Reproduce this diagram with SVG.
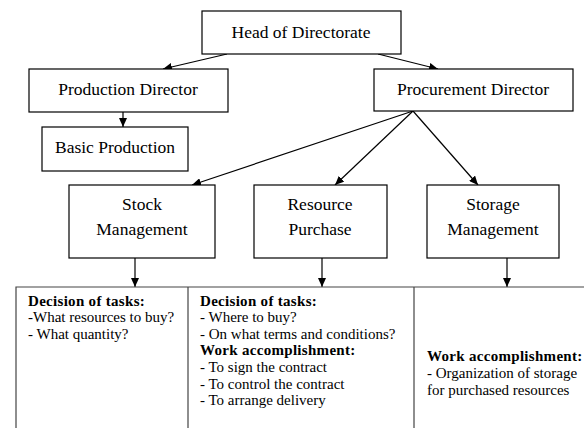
<svg xmlns="http://www.w3.org/2000/svg" width="584" height="428" viewBox="0 0 584 428">
<defs>
<marker id="ah" markerWidth="9" markerHeight="8" refX="9" refY="4" orient="auto" markerUnits="userSpaceOnUse">
<path d="M0,0 L9,4 L0,8 z" fill="#000"/>
</marker>
<style>
.box{fill:#fff;stroke:#000;stroke-width:1.2}
.lbl{font-family:'Liberation Serif','Times New Roman','DejaVu Serif',serif;font-size:17.5px;fill:#000;text-anchor:middle}
.con{stroke:#000;stroke-width:1.2;fill:none;marker-end:url(#ah)}
.tbl{stroke:#444;stroke-width:1.2;fill:none}
.t{font-family:'Liberation Serif','Times New Roman','DejaVu Serif',serif;font-size:15px;fill:#000}
.b{font-weight:bold;letter-spacing:0.3px}
</style>
</defs>
<rect width="584" height="428" fill="#fff"/>
<g id="connectors">
<line class="con" x1="227" y1="54" x2="163" y2="69"/>
<line class="con" x1="378" y1="54" x2="438" y2="69"/>
<line class="con" x1="123" y1="112" x2="123" y2="127"/>
<line class="con" x1="413" y1="111" x2="192" y2="185"/>
<line class="con" x1="413" y1="111" x2="335" y2="185"/>
<line class="con" x1="413" y1="111" x2="478" y2="185"/>
<line class="con" x1="135" y1="258" x2="135" y2="287"/>
<line class="con" x1="322" y1="258" x2="322" y2="287"/>
<line class="con" x1="507" y1="258" x2="507" y2="287"/>
</g>
<g id="head">
<rect class="box" x="202" y="11" width="199" height="43"/>
<text class="lbl" x="301" y="38" font-family="Liberation Serif, serif">Head of Directorate</text>
</g>
<g id="production-director">
<rect class="box" x="29" y="69" width="199" height="43"/>
<text class="lbl" x="128" y="95">Production Director</text>
</g>
<g id="procurement-director">
<rect class="box" x="374" y="69" width="199" height="42"/>
<text class="lbl" x="473" y="95">Procurement Director</text>
</g>
<g id="basic-production">
<rect class="box" x="42" y="127" width="146" height="44"/>
<text class="lbl" x="115" y="153">Basic Production</text>
</g>
<g id="stock-management">
<rect class="box" x="69" y="185" width="146" height="73"/>
<text class="lbl" x="142" y="210">Stock</text>
<text class="lbl" x="142" y="235">Management</text>
</g>
<g id="resource-purchase">
<rect class="box" x="254" y="185" width="133" height="73"/>
<text class="lbl" x="320" y="210">Resource</text>
<text class="lbl" x="320" y="235">Purchase</text>
</g>
<g id="storage-management">
<rect class="box" x="427" y="185" width="132" height="73"/>
<text class="lbl" x="493" y="210">Storage</text>
<text class="lbl" x="493" y="235">Management</text>
</g>
<g id="tasks-table">
<path class="tbl" d="M16,428 V287 H584 M188,287 V428 M414,287 V428"/>
<text class="t b" x="28" y="306">Decision of tasks:</text>
<text class="t" x="28" y="322">-What resources to buy?</text>
<text class="t" x="28" y="339">- What quantity?</text>
<text class="t b" x="200" y="306">Decision of tasks:</text>
<text class="t" x="200" y="322">- Where to buy?</text>
<text class="t" x="200" y="339">- On what terms and conditions?</text>
<text class="t b" x="200" y="355">Work accomplishment:</text>
<text class="t" x="200" y="372">- To sign the contract</text>
<text class="t" x="200" y="389">- To control the contract</text>
<text class="t" x="200" y="405">- To arrange delivery</text>
<text class="t b" x="427" y="361">Work accomplishment:</text>
<text class="t" x="427" y="378">- Organization of storage</text>
<text class="t" x="427" y="395">for purchased resources</text>
</g>
</svg>
